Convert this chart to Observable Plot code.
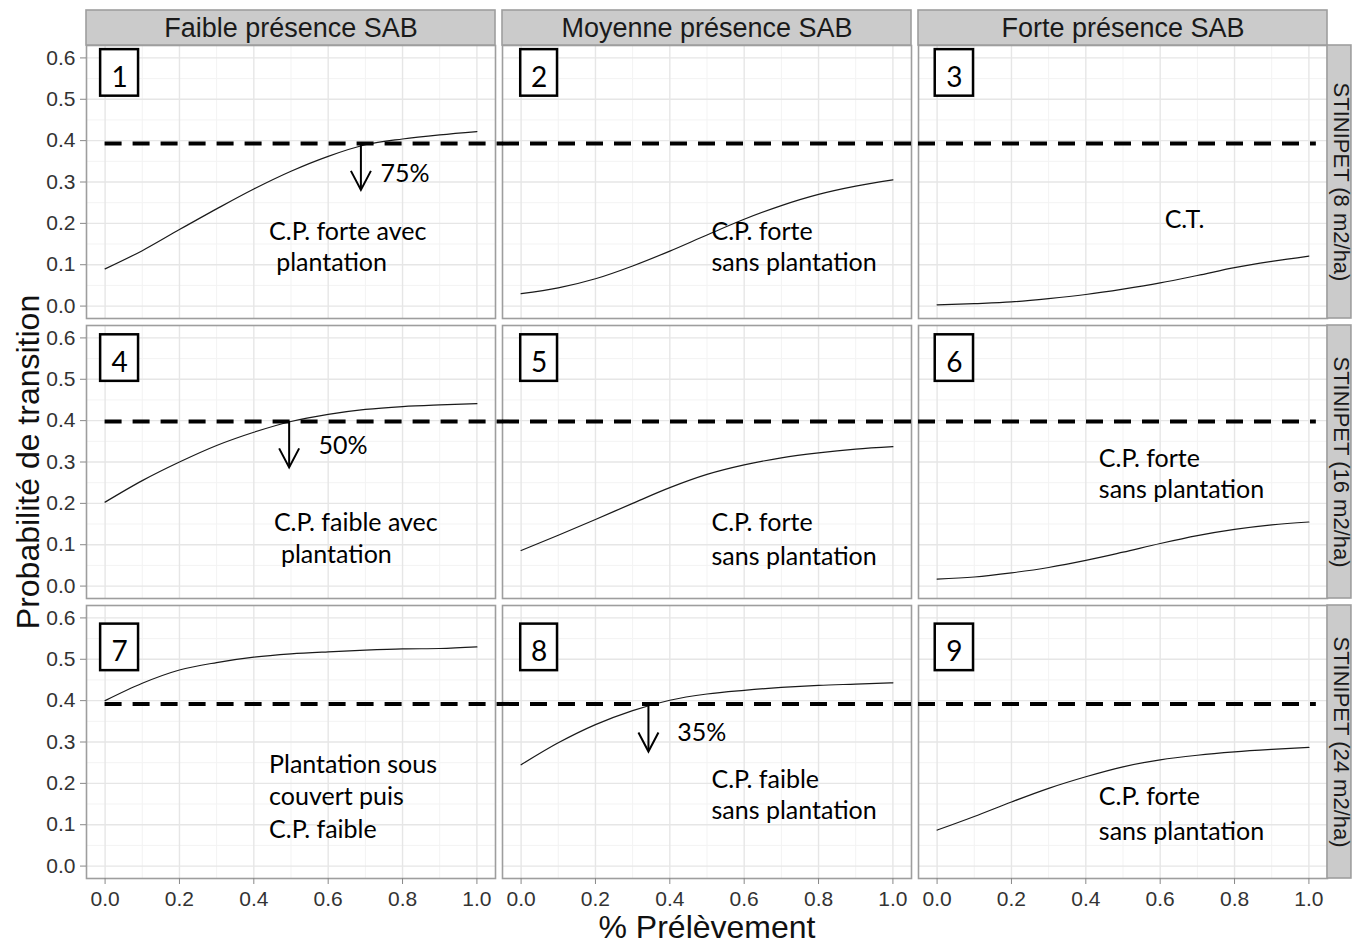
<!DOCTYPE html>
<html>
<head>
<meta charset="utf-8">
<script src="https://cdn.jsdelivr.net/npm/d3@7"></script>
<script src="https://cdn.jsdelivr.net/npm/@observablehq/plot@0.6"></script>
<style>
  html, body { margin: 0; padding: 0; background: white; overflow: hidden; }
</style>
</head>
<body>
<div id="chart"></div>
<script>
// ---- categories ----
const cols = ["Faible présence SAB", "Moyenne présence SAB", "Forte présence SAB"];
const rows = ["STINIPET (8 m2/ha)", "STINIPET (16 m2/ha)", "STINIPET (24 m2/ha)"];

// ---- x values (% prélèvement) ----
const prelevement = [0, 0.1, 0.2, 0.3, 0.4, 0.5, 0.6, 0.7, 0.8, 0.9, 1.0];

// ---- series: probabilité de transition, panels 1..9 ----
const panel1 = [0.090, 0.134, 0.185, 0.235, 0.283, 0.326, 0.362, 0.390, 0.404, 0.414, 0.422];
const panel2 = [0.030, 0.044, 0.066, 0.097, 0.133, 0.172, 0.210, 0.243, 0.270, 0.290, 0.305];
const panel3 = [0.003, 0.006, 0.010, 0.018, 0.028, 0.041, 0.056, 0.074, 0.093, 0.108, 0.121];
const panel4 = [0.203, 0.255, 0.300, 0.340, 0.372, 0.398, 0.415, 0.427, 0.434, 0.438, 0.441];
const panel5 = [0.086, 0.123, 0.161, 0.200, 0.238, 0.270, 0.293, 0.310, 0.322, 0.331, 0.337];
const panel6 = [0.017, 0.022, 0.032, 0.045, 0.062, 0.082, 0.103, 0.122, 0.137, 0.148, 0.155];
const panel7 = [0.400, 0.442, 0.474, 0.492, 0.505, 0.513, 0.518, 0.522, 0.525, 0.526, 0.530];
const panel8 = [0.245, 0.298, 0.342, 0.376, 0.401, 0.416, 0.425, 0.432, 0.437, 0.440, 0.443];
const panel9 = [0.087, 0.120, 0.155, 0.188, 0.216, 0.240, 0.257, 0.268, 0.276, 0.282, 0.287];

// ---- threshold (dashed line) per row ----
const seuil = [0.393, 0.398, 0.392];

// ---- tick labels ----
const xTicks = [0, 0.2, 0.4, 0.6, 0.8, 1.0];
const xMinor = [0.1, 0.3, 0.5, 0.7, 0.9];
const yTicks = [0, 0.1, 0.2, 0.3, 0.4, 0.5, 0.6];
const yMinor = [0.05, 0.15, 0.25, 0.35, 0.45, 0.55];

// ---- annotations (panel, x, y, text) ----
const notes = [
  [1, 0.441, 0.159, "C.P. forte avec"],
  [1, 0.460, 0.086, "plantation"],
  [2, 0.512, 0.159, "C.P. forte"],
  [2, 0.512, 0.086, "sans plantation"],
  [3, 0.612, 0.188, "C.T."],
  [4, 0.454, 0.132, "C.P. faible avec"],
  [4, 0.473, 0.057, "plantation"],
  [5, 0.512, 0.134, "C.P. forte"],
  [5, 0.512, 0.052, "sans plantation"],
  [6, 0.435, 0.287, "C.P. forte"],
  [6, 0.435, 0.212, "sans plantation"],
  [7, 0.441, 0.226, "Plantation sous"],
  [7, 0.441, 0.1465, "couvert puis"],
  [7, 0.441, 0.067, "C.P. faible"],
  [8, 0.512, 0.188, "C.P. faible"],
  [8, 0.512, 0.113, "sans plantation"],
  [9, 0.435, 0.1465, "C.P. forte"],
  [9, 0.435, 0.064, "sans plantation"]
];
const pctNotes = [[1, 0.741, 0.300, "75%"], [4, 0.574, 0.320, "50%"], [8, 0.420, 0.302, "35%"]];
const arrowsAt = [[1, 0.688, 0.281], [4, 0.495, 0.287], [8, 0.3425, 0.277]];
const boxX = [[-0.012, 0.090], [-0.001, 0.098], [-0.005, 0.098]];
const boxY = [[0.620, 0.5075], [0.6075, 0.495], [0.585, 0.4725]];

// ---- build tables ----
const series = [panel1, panel2, panel3, panel4, panel5, panel6, panel7, panel8, panel9];
const colOf = p => cols[(p - 1) % 3];
const rowOf = p => rows[Math.floor((p - 1) / 3)];
const curves = series.flatMap((vals, i) => vals.map((v, j) => ({col: colOf(i + 1), row: rowOf(i + 1), x: prelevement[j], y: v})));
const panels = d3.range(1, 10).map(p => ({p, col: colOf(p), row: rowOf(p), ci: (p - 1) % 3, ri: Math.floor((p - 1) / 3)}));
const dashes = panels.map(d => ({...d, y: seuil[d.ri], x1: d.ci === 0 ? 0 : -0.05, x2: d.ci === 2 ? 1.02 : 1.07}));
const boxes = panels.map(d => ({...d, x1: boxX[d.ci][0], x2: boxX[d.ci][1], y1: boxY[d.ri][0], y2: boxY[d.ri][1], xm: (boxX[d.ci][0] + boxX[d.ci][1]) / 2, ym: (boxY[d.ri][0] + boxY[d.ri][1]) / 2}));
const noteRows = notes.map(([p, x, y, t]) => ({col: colOf(p), row: rowOf(p), x, y, t}));
const pctRows = pctNotes.map(([p, x, y, t]) => ({col: colOf(p), row: rowOf(p), x, y, t}));
const arrowRows = arrowsAt.map(([p, x, y]) => ({col: colOf(p), row: rowOf(p), x, y1: seuil[Math.floor((p - 1) / 3)], y2: y}));
const topStrips = cols.map(c => ({col: c, row: rows[0], label: c}));
const rightStrips = rows.map(r => ({col: cols[2], row: r, label: r}));

const vHead = {draw(ctx) { ctx.moveTo(-10, -19); ctx.lineTo(0, 0); ctx.lineTo(10, -19); }};
const annFont = "Lato, 'Open Sans', sans-serif";
const stripH = 35 * 0.66 / 273;

const chart = Plot.plot({
  width: 1352,
  height: 942,
  marginTop: 45,
  marginBottom: 64,
  marginLeft: 85,
  marginRight: 24,
  style: {fontFamily: "'Liberation Sans', Arial, sans-serif", background: "white", overflow: "hidden"},
  x: {domain: [-0.05, 1.05]},
  y: {domain: [-0.03, 0.63]},
  fx: {domain: cols, paddingInner: 0.016, paddingOuter: 0, axis: null},
  fy: {domain: rows, paddingInner: 0.025, paddingOuter: 0, axis: null},
  marks: [
    Plot.gridX(xMinor, {stroke: "#f3f3f3", strokeOpacity: 1, strokeWidth: 1}),
    Plot.gridY(yMinor, {stroke: "#f3f3f3", strokeOpacity: 1, strokeWidth: 1}),
    Plot.gridX(xTicks, {stroke: "#e6e6e6", strokeOpacity: 1, strokeWidth: 1.4}),
    Plot.gridY(yTicks, {stroke: "#e6e6e6", strokeOpacity: 1, strokeWidth: 1.4}),
    Plot.frame({stroke: "#9e9e9e", strokeWidth: 1.6}),
    // strips
    Plot.rect(topStrips, {fx: "col", fy: "row", x1: -0.05, x2: 1.05, y1: 0.63, y2: 0.63 + stripH, fill: "#cbcbcb", stroke: "#9e9e9e", strokeWidth: 1.6}),
    Plot.text(topStrips, {fx: "col", fy: "row", x: 0.5, y: 0.63 + stripH / 2, text: "label", fontSize: 27, fill: "#1a1a1a"}),
    Plot.rect(rightStrips, {fx: "col", fy: "row", x1: 1.05, x2: 1.05 + 24 * 1.1 / 410, y1: -0.03, y2: 0.63, fill: "#cbcbcb", stroke: "#9e9e9e", strokeWidth: 1.6}),
    Plot.text(rightStrips, {fx: "col", fy: "row", x: 1.05 + 14 * 1.1 / 410, y: 0.3, text: "label", rotate: 90, fontSize: 22, fill: "#1a1a1a"}),
    // axes
    Plot.axisX({ticks: xTicks, tickFormat: d3.format(".1f"), tickSize: 6, tickPadding: 7, fontSize: 21, stroke: "#888", fill: "#333", label: null}),
    Plot.axisY({ticks: yTicks, tickFormat: d3.format(".1f"), tickSize: 6, tickPadding: 5, fontSize: 21, stroke: "#888", fill: "#333", label: null}),
    // data curves
    Plot.line(curves, {fx: "col", fy: "row", x: "x", y: "y", stroke: "#1a1a1a", strokeWidth: 1.2, curve: "monotone-x"}),
    // threshold
    Plot.ruleY(dashes, {fx: "col", fy: "row", y: "y", x1: "x1", x2: "x2", stroke: "black", strokeWidth: 4, strokeDasharray: "17,11"}),
    // number boxes
    Plot.rect(boxes, {fx: "col", fy: "row", x1: "x1", x2: "x2", y1: "y1", y2: "y2", fill: "white", stroke: "black", strokeWidth: 2.5}),
    Plot.text(boxes, {fx: "col", fy: "row", x: "xm", y: "ym", text: "p", fontSize: 28, fontFamily: annFont, dy: 5, fill: "black"}),
    // annotations
    Plot.text(noteRows, {fx: "col", fy: "row", x: "x", y: "y", text: "t", textAnchor: "start", lineAnchor: "bottom", fontSize: 25, fontFamily: annFont, fill: "black"}),
    Plot.text(pctRows, {fx: "col", fy: "row", x: "x", y: "y", text: "t", textAnchor: "start", lineAnchor: "bottom", fontSize: 25, fontFamily: annFont, fill: "black"}),
    Plot.ruleX(arrowRows, {fx: "col", fy: "row", x: "x", y1: "y1", y2: "y2", stroke: "black", strokeWidth: 2}),
    Plot.dot(arrowRows, {fx: "col", fy: "row", x: "x", y: "y2", symbol: vHead, stroke: "black", fill: "none", strokeWidth: 2}),
    // axis titles
    Plot.text(["% Prélèvement"], {facet: "super", frameAnchor: "bottom", textAnchor: "middle", lineAnchor: "middle", dy: 49, fontSize: 32, fill: "#111"}),
    Plot.text(["Probabilité de transition"], {facet: "super", frameAnchor: "left", textAnchor: "middle", lineAnchor: "middle", dx: -58, rotate: -90, fontSize: 32, fill: "#111"})
  ]
});
document.getElementById("chart").appendChild(chart);
</script>
</body>
</html>
